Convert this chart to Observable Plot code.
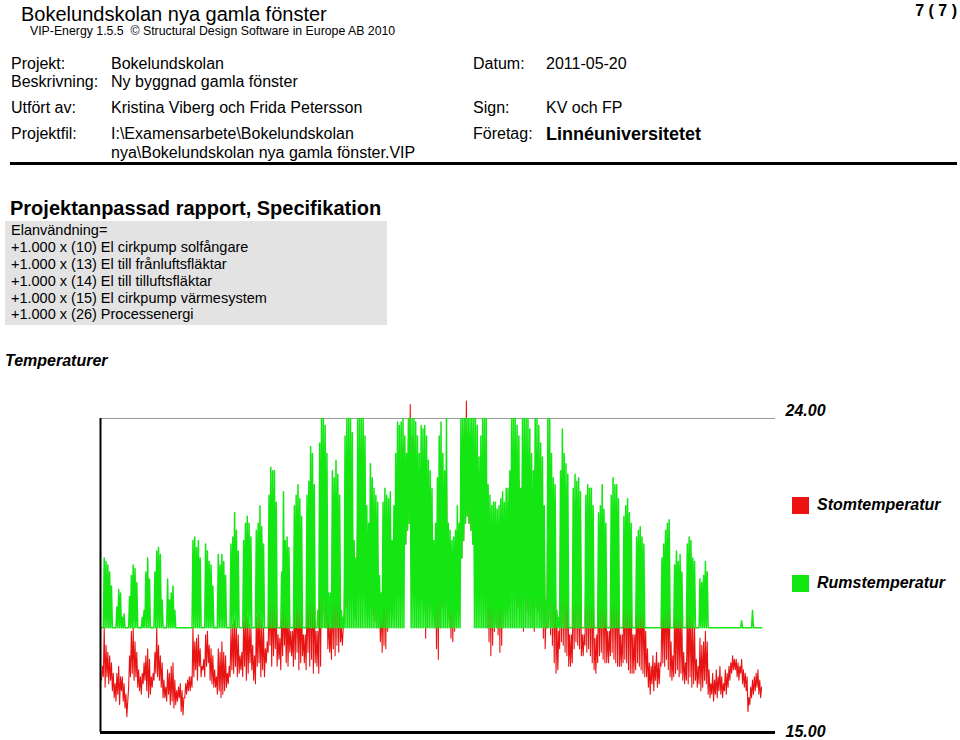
<!DOCTYPE html>
<html><head><meta charset="utf-8">
<script src="https://cdn.jsdelivr.net/npm/d3@7"></script>
<script src="https://cdn.jsdelivr.net/npm/@observablehq/plot@0.6"></script>
<style>
body{margin:0;background:#fff;}
#page{position:relative;width:960px;height:740px;overflow:hidden;font-family:Arial,"Liberation Sans",sans-serif;color:#000;background:#fff;}
.t{position:absolute;white-space:pre;line-height:1;}
#chart{position:absolute;left:0;top:390px;}
.sq{position:absolute;width:17px;height:17px;}
</style></head><body><div id="page">
<div class="t" style="left:21px;top:4.3px;font-size:20px;">Bokelundskolan nya gamla fönster</div>
<div class="t" style="left:30px;top:25.2px;font-size:12.3px;">VIP-Energy 1.5.5  © Structural Design Software in Europe AB 2010</div>
<div class="t" style="right:3px;top:3px;font-size:16px;font-weight:bold;">7 ( 7 )</div>

<div class="t" style="left:11px;top:55.5px;font-size:16px;">Projekt:</div>
<div class="t" style="left:111px;top:55.5px;font-size:16px;">Bokelundskolan</div>
<div class="t" style="left:473px;top:55.5px;font-size:16px;">Datum:</div>
<div class="t" style="left:546px;top:55.5px;font-size:16px;">2011-05-20</div>
<div class="t" style="left:11px;top:73.5px;font-size:16px;">Beskrivning:</div>
<div class="t" style="left:111px;top:73.5px;font-size:16px;">Ny byggnad gamla fönster</div>
<div class="t" style="left:11px;top:99.5px;font-size:16px;">Utfört av:</div>
<div class="t" style="left:111px;top:99.5px;font-size:16px;">Kristina Viberg och Frida Petersson</div>
<div class="t" style="left:473px;top:99.5px;font-size:16px;">Sign:</div>
<div class="t" style="left:546px;top:99.5px;font-size:16px;">KV och FP</div>
<div class="t" style="left:11px;top:125.5px;font-size:16px;">Projektfil:</div>
<div class="t" style="left:111px;top:125.5px;font-size:16px;">I:\Examensarbete\Bokelundskolan</div>
<div class="t" style="left:111px;top:144.5px;font-size:16px;">nya\Bokelundskolan nya gamla fönster.VIP</div>
<div class="t" style="left:473px;top:125.5px;font-size:16px;">Företag:</div>
<div class="t" style="left:546px;top:124.8px;font-size:18px;font-weight:bold;">Linnéuniversitetet</div>
<div style="position:absolute;left:10px;top:162px;width:947px;height:3px;background:#000;"></div>

<div class="t" style="left:10px;top:198px;font-size:20px;font-weight:bold;">Projektanpassad rapport, Specifikation</div>
<div style="position:absolute;left:5px;top:221px;width:382px;height:104px;background:#e3e3e3;"></div>
<div class="t" style="left:11px;top:222.7px;font-size:14.5px;">Elanvändning=</div>
<div class="t" style="left:11px;top:239.7px;font-size:14.5px;">+1.000 x (10) El cirkpump solfångare</div>
<div class="t" style="left:11px;top:256.7px;font-size:14.5px;">+1.000 x (13) El till frånluftsfläktar</div>
<div class="t" style="left:11px;top:273.7px;font-size:14.5px;">+1.000 x (14) El till tilluftsfläktar</div>
<div class="t" style="left:11px;top:290.7px;font-size:14.5px;">+1.000 x (15) El cirkpump värmesystem</div>
<div class="t" style="left:11px;top:306.7px;font-size:14.5px;">+1.000 x (26) Processenergi</div>

<div class="t" style="left:5px;top:353px;font-size:16px;font-weight:bold;font-style:italic;">Temperaturer</div>

<div id="chart"></div>

<div class="sq" style="left:792px;top:497px;background:#ee1111;"></div>
<div class="t" style="left:817px;top:496.5px;font-size:16px;font-weight:bold;font-style:italic;">Stomtemperatur</div>
<div class="sq" style="left:792px;top:575px;background:#11e611;"></div>
<div class="t" style="left:817px;top:575px;font-size:16px;font-weight:bold;font-style:italic;">Rumstemperatur</div>
</div>
<script>
// Daily values, one row per week (Sun, Mon, Tue, Wed, Thu, Fri, Sat).
// Rumstemperatur: daytime peak per day
const rumMax = [
18,20.0,19.9,19.8,19.6,19.2,18,
18,18.6,19.1,19.0,18.3,18.4,18,
18,18.9,19.5,19.8,19.7,19.3,18,
18,18.3,18.5,19.6,20.0,19.4,18,
18,19.6,20.2,20.3,20.1,18.8,18,
18,19.4,18.8,19.0,19.2,18.5,18,
18,18,18,18,18,18,18,
18,20.5,20.6,20.3,20.5,20.0,18,
18,20.4,20.2,19.9,19.8,19.2,18,
18,20.1,19.8,20.1,19.9,19.5,18,
18,20.4,20.6,21.3,20.8,20.2,18,
18,20.5,21.0,21.2,21.0,20.6,18,
18,20.8,21.0,21.5,20.9,20.4,18,
18,21.8,22.6,22.5,22.5,21.6,18,
18,19.6,21.9,20.5,20.6,20.3,18,
18,21.5,21.8,22.1,21.7,21.2,18,
18,21.8,22.2,23.2,23.0,22.1,18,
18.5,23.3,24,24,23.8,23.0,19.0,
19.0,22.5,22.3,22.8,22.4,21.8,18.5,
18.3,23.5,24,24,24,23.6,20.5,
20.0,24,24,24,24,23.5,21.5,
21.0,22.7,22.3,22.0,21.8,21.6,19.5,
19.0,21.6,22.0,21.8,21.7,21.9,20.5,
21.5,23.0,23.9,23.8,23.9,24,23.5,
23.0,24,24,24,24,23.9,23.5,
23.0,23.8,23.7,23.8,23.5,22.8,22.5,
22.0,20.5,21.0,22.3,23.5,23.9,23.0,
22.5,24,21.0,20.8,20.5,20.6,20.8,
21.5,21.0,24,24,24,24,24,
24,24,24,24,23.8,22.9,23.5,
24,24,24,22.1,21.8,21.5,21.6,
21.6,21.4,21.5,21.7,21.9,21.6,22.0,
22.0,22.5,24,24,24,23.8,23.5,
22.0,24,24,24,24,23.7,23.0,
22.5,24,24,23.8,23.3,22.9,21.5,
18.8,24,24,23.0,22.3,22.1,18.5,
18.3,22.5,23.7,23.0,22.7,22.4,18,
18,22.0,22.4,22.2,22.3,21.9,18,
18,21.8,22.1,22.0,22.0,21.5,18,
18,21.3,21.5,22.1,21.4,21.0,18,
18,21.8,22.3,22.1,22.1,21.7,18,
18,21.2,21.5,21.7,21.3,21.0,18,
18,20.6,20.8,20.9,20.6,20.4,18,
18,18,18,18,18,18,18,
18,20.0,20.4,20.8,21.0,21.1,18,
18,19.8,20.2,19.9,20.1,19.6,18,
18,20.4,20.6,20.5,20.0,19.9,18,
18,19.4,19.3,19.5,19.9,19.6,18,
18,18,18,18,18,18,18,
18,18,18,18,18,18,18,
18,18,18,18.2,18,18,18,
18,18,18.5,18,18,18,18,
18
];
// Rumstemperatur: night minimum per day
const rumMin = [
18,18,18,18,18,18,18,
18,18,18,18,18,18,18,
18,18,18,18,18,18,18,
18,18,18,18,18,18,18,
18,18,18,18,18,18,18,
18,18,18,18,18,18,18,
18,18,18,18,18,18,18,
18,18,18,18,18,18,18,
18,18,18,18,18,18,18,
18,18,18,18,18,18,18,
18,18,18,18,18,18,18,
18,18,18,18,18,18,18,
18,18,18,18,18,18,18,
18,18,18,18,18,18,18,
18,18,18,18,18,18,18,
18,18,18,18,18,18,18,
18,18,18,18,18,18,18,
18,18,18,18,18,18,18,
18,18,18,18,18,18,18,
18,18,18,18,18,18,18,
18,18,18,18,18,18,18,
18,18,18,18,18,18,18,
18,18,18,18,18,18,18,
18,18,18,18,18,18,18,
20.4,20.8,21.0,18,18,18,18,
18,18,18,18,18,18,18,
18,18,18,18,18,18,18,
18,18,18,18,18,18,18,
18,18,18,20.0,20.5,21.0,21.2,
21.0,20.8,20.4,18,18,18,18,
18,18,18,18,18,18,18,
18,18,18,18,18,18,18,
18,18,18,18,18,18,18,
18,18,18,18,18,18,18,
18,18,18,18,18,18,18,
18,18,18,18,18,18,18,
18,18,18,18,18,18,18,
18,18,18,18,18,18,18,
18,18,18,18,18,18,18,
18,18,18,18,18,18,18,
18,18,18,18,18,18,18,
18,18,18,18,18,18,18,
18,18,18,18,18,18,18,
18,18,18,18,18,18,18,
18,18,18,18,18,18,18,
18,18,18,18,18,18,18,
18,18,18,18,18,18,18,
18,18,18,18,18,18,18,
18,18,18,18,18,18,18,
18,18,18,18,18,18,18,
18,18,18,18,18,18,18,
18,18,18,18,18,18,18,
18
];
// Stomtemperatur: daytime high per day
const stomMax = [
16.9,18.0,17.5,17.3,17.2,17.0,16.7,
16.4,16.7,16.9,16.6,16.6,16.4,16.1,
15.9,17.2,17.9,18.0,17.6,17.3,16.8,
16.6,16.7,17.0,17.2,17.4,17.1,16.6,
16.7,17.3,18.0,17.5,17.2,17.0,16.5,
16.3,16.8,16.7,16.9,17.0,16.5,16.2,
16.3,16.4,16.2,16.0,16.4,16.5,16.6,
16.6,18.0,17.6,17.7,17.8,17.4,16.9,
17.1,17.8,17.9,17.5,17.4,17.2,16.8,
16.6,17.4,17.3,17.6,17.3,17.2,16.7,
16.9,18.0,18.1,18.2,18.0,17.8,17.2,
17.3,18.2,18.4,18.3,18.1,18.0,17.5,
17.2,18.3,18.5,18.4,18.2,18.0,17.4,
17.6,18.8,19.2,19.0,18.9,18.6,17.8,
17.7,18.4,18.8,18.6,18.5,18.3,17.9,
17.9,18.9,19.1,19.2,18.9,18.7,17.8,
17.8,19.0,19.4,19.8,19.6,19.1,17.9,
17.9,19.8,20.5,21.0,20.8,20.2,18.4,
18.0,19.6,19.9,20.1,19.8,19.4,18.0,
18.0,20.5,21.2,21.6,21.4,21.0,20.0,
19.8,21.5,22.0,22.3,22.0,21.4,20.6,
20.2,20.8,20.6,20.4,20.2,20.0,19.0,
18.8,19.8,20.2,20.1,20.4,20.6,20.0,
20.6,21.6,22.5,22.8,23.0,23.2,22.8,
22.5,23.4,24.4,23.5,23.2,22.8,22.6,
22.0,22.5,22.6,22.3,21.8,21.4,21.2,
21.0,19.8,20.2,20.8,21.6,22.4,22.0,
21.8,22.5,20.4,20.1,19.9,20.0,20.2,
20.8,20.4,23.0,23.4,23.6,24.5,23.6,
23.2,23.4,23.2,23.0,22.8,22.2,22.4,
22.6,22.8,22.8,21.2,20.8,20.6,20.5,
20.6,20.7,20.8,20.9,21.0,20.8,21.0,
21.2,21.8,22.8,23.0,23.0,22.6,22.2,
21.4,22.6,23.0,23.0,22.8,22.4,22.0,
21.6,22.6,22.6,22.2,21.8,21.4,20.6,
18.4,22.2,22.0,21.4,20.8,20.4,18.1,
17.9,20.8,21.2,20.9,20.6,20.2,17.8,
17.8,20.2,20.6,20.4,20.5,20.0,17.8,
17.8,20.0,20.3,20.2,20.1,19.8,17.7,
17.8,19.6,19.8,20.2,19.7,19.4,17.9,
17.9,20.0,20.4,20.2,20.1,19.8,17.8,
17.8,19.5,19.8,19.9,19.6,19.3,17.8,
17.8,19.2,19.4,19.5,19.2,19.0,17.9,
17.4,17.0,16.9,17.2,17.0,17.3,17.0,
17.0,18.6,18.9,19.2,19.4,19.5,17.6,
17.2,18.4,18.8,18.5,18.7,18.2,17.3,
17.0,18.6,18.8,18.6,18.2,18.0,17.1,
16.9,17.7,17.5,17.6,17.9,17.6,16.8,
16.4,16.7,16.5,16.8,16.6,16.9,16.6,
16.4,16.8,16.7,16.9,17.0,17.2,17.1,
17.1,17.0,16.9,17.1,16.8,16.7,16.6,
16.0,16.3,16.5,16.6,16.7,16.8,16.5,
16.3
];
// Stomtemperatur: night low per day
const stomMin = [
16.5,16.6,16.3,16.6,16.4,16.5,16.2,
16.0,15.9,16.1,15.8,16.2,15.9,15.7,
15.45,16.3,16.6,16.7,16.5,16.6,16.3,
16.2,16.1,16.4,16.5,16.2,16.0,16.1,
16.3,16.5,16.7,16.6,16.5,16.3,16.0,
16.0,15.9,16.1,15.8,15.9,15.7,15.8,
15.9,16.0,15.6,15.5,16.0,16.1,16.2,
16.2,16.3,16.6,16.8,16.5,16.9,16.6,
16.8,16.6,16.9,17.0,16.5,16.4,16.3,
16.3,16.1,16.2,16.0,16.1,16.2,16.3,
16.4,16.6,16.8,16.7,16.9,16.6,16.7,
16.8,16.6,16.9,16.5,16.7,17.0,16.8,
16.5,16.4,16.9,17.0,16.6,16.8,16.6,
17.0,17.3,17.5,16.9,17.2,17.4,16.9,
17.1,16.8,17.2,17.5,17.0,16.9,17.3,
17.2,16.9,17.1,17.3,16.8,17.0,17.2,
17.0,16.8,17.3,16.9,17.1,16.7,17.0,
16.9,16.7,16.9,18.2,18.4,18.0,17.4,
17.3,17.1,17.4,17.2,17.5,17.3,17.6,
17.5,18.2,18.6,19.0,18.8,18.5,18.9,
19.0,19.2,19.5,19.8,19.6,19.0,18.8,
18.5,18.3,18.6,18.4,18.2,18.0,18.1,
17.6,17.3,17.5,17.4,17.9,18.2,18.5,
18.6,18.8,19.2,19.6,19.9,20.2,20.1,
20.4,20.8,21.0,19.8,19.5,19.2,19.4,
19.3,19.0,18.8,18.5,17.7,18.3,18.6,
18.6,18.4,18.0,17.4,17.1,18.0,18.6,
18.9,18.7,18.4,18.2,17.7,17.6,17.9,
18.3,18.8,19.4,20.0,20.5,21.0,21.2,
21.0,20.8,20.4,20.0,19.6,19.2,19.0,
19.0,18.6,18.4,18.0,17.6,17.2,17.5,
17.9,18.1,17.8,17.3,17.5,18.2,18.5,
18.8,19.0,19.3,19.5,19.2,18.8,18.6,
18.6,18.9,17.9,18.8,18.5,18.4,18.3,
18.3,17.9,18.6,18.5,18.2,18.1,17.7,
17.4,18.0,18.2,17.8,17.5,17.0,16.7,
16.8,17.4,17.6,17.5,17.3,17.2,16.9,
16.9,17.0,17.4,17.6,17.5,17.4,17.2,
17.2,17.5,17.3,17.4,17.2,17.0,16.8,
16.7,17.0,17.2,17.3,17.1,17.0,17.0,
17.0,17.2,17.3,17.1,17.0,16.9,16.9,
16.9,17.0,17.1,17.0,16.8,16.7,16.7,
16.7,16.8,17.0,16.9,16.8,16.7,16.6,
16.6,16.3,16.1,16.4,16.2,16.5,16.3,
16.4,16.9,17.0,16.9,17.1,16.8,16.6,
16.5,16.6,16.7,16.8,16.6,16.7,16.5,
16.4,16.5,16.4,16.6,16.3,16.4,16.5,
16.3,16.4,16.2,16.3,16.5,16.4,16.1,
16.0,16.1,15.9,16.1,16.0,16.2,16.1,
16.0,16.2,16.1,16.3,16.5,16.7,16.8,
16.8,16.6,16.5,16.7,16.4,16.3,16.2,
15.6,15.8,16.0,16.1,16.2,16.3,16.1,
16.0
];
const yTicks = [15, 24];
const xDomain = [-0.55, 372.2];

// Build line tables: night sample at the start of day, daytime sample half a day later
const rum = [], stom = [];
for (let d = 0; d < rumMax.length; d++) {
  rum.push({t: d, v: rumMin[d]}, {t: d + 0.5, v: rumMax[d]});
  stom.push({t: d, v: stomMin[d]}, {t: d + 0.5, v: stomMax[d]});
}

const fmt = d3.format(".2f");
const axisText = {anchor: "right", label: null, tickSize: 0, tickPadding: 10, tickFormat: fmt, fontSize: 16, fontWeight: "bold", fontStyle: "italic"};
const chart = Plot.plot({
  width: 960, height: 350,
  marginTop: 28, marginBottom: 8, marginLeft: 100, marginRight: 185,
  x: {domain: xDomain, axis: null},
  y: {domain: [yTicks[0], yTicks[1]], label: null},
  style: {fontFamily: 'Arial, "Liberation Sans", sans-serif', background: "transparent", overflow: "visible", color: "#000"},
  marks: [
    Plot.ruleY([yTicks[1]], {stroke: "#9a9a9a", strokeWidth: 1}),
    Plot.line(stom, {x: "t", y: "v", stroke: "#e81414", strokeWidth: 1.1}),
    Plot.line(rum, {x: "t", y: "v", stroke: "#14e614", strokeWidth: 1.5}),
    Plot.ruleY([yTicks[0]], {stroke: "#000", strokeWidth: 3}),
    Plot.ruleX([xDomain[0]], {y1: yTicks[0], y2: yTicks[1], stroke: "#000", strokeWidth: 2}),
    Plot.axisY([yTicks[1]], {...axisText, dy: -8}),
    Plot.axisY([yTicks[0]], {...axisText, dy: -1})
  ]
});
document.getElementById("chart").appendChild(chart);
</script>
</body></html>
